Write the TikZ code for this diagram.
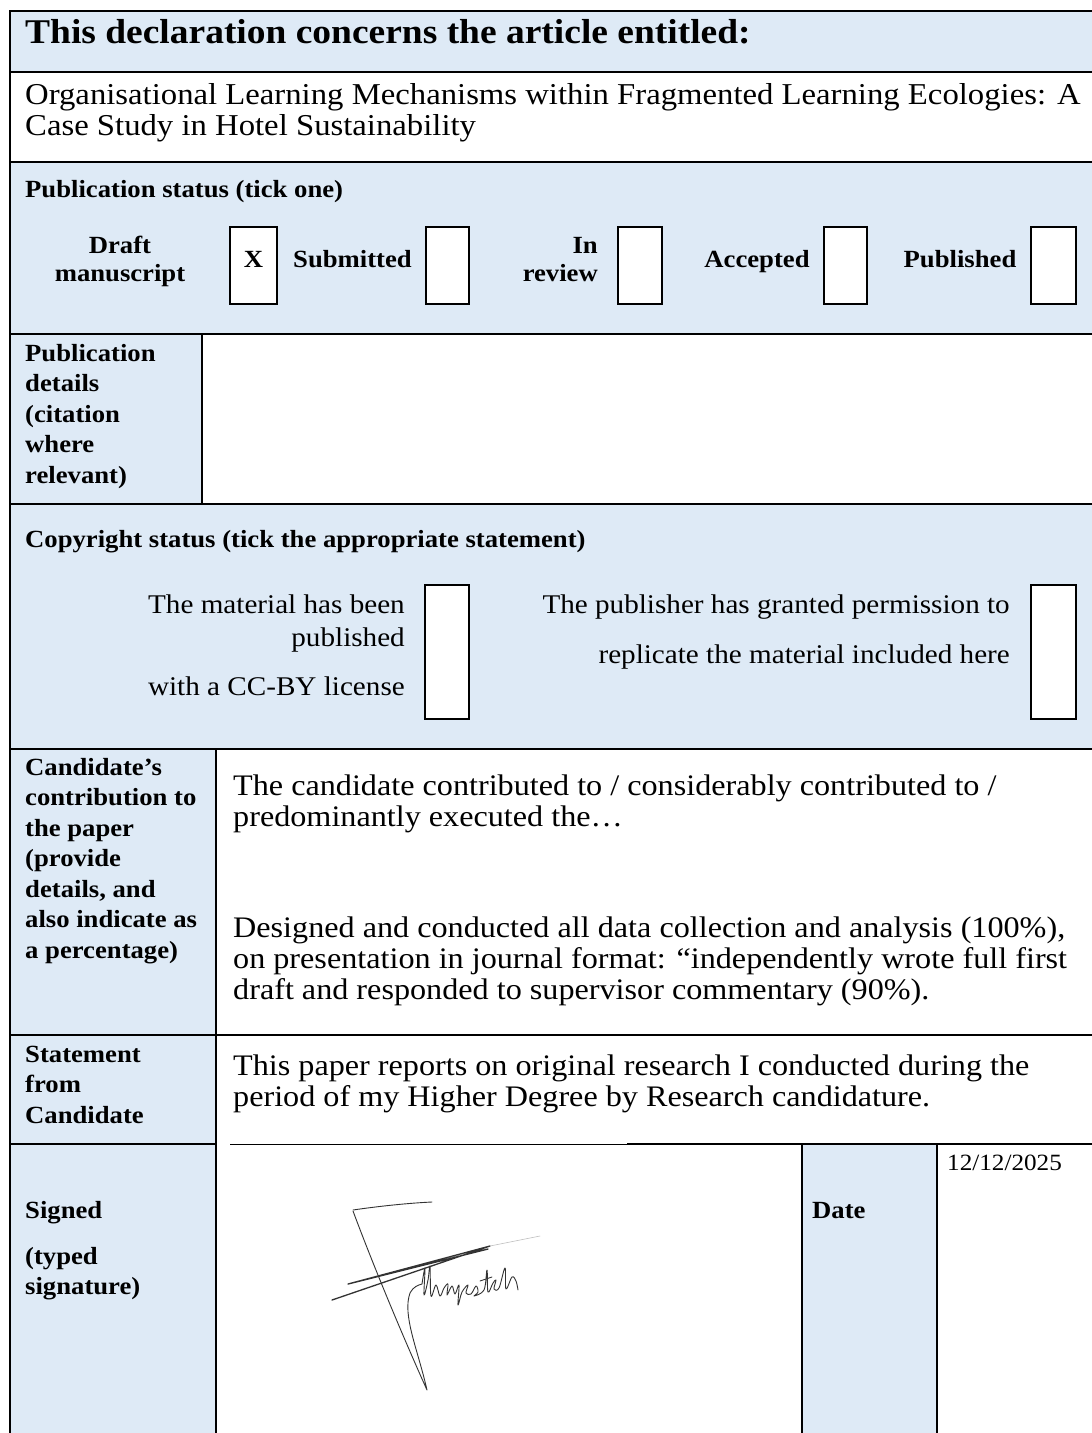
\documentclass[tikz,border=0pt]{standalone}
\usepackage{fontspec}
\setmainfont{Liberation Serif}[FakeStretch=1.08]
\definecolor{cellblue}{HTML}{DEEAF6}
\begin{document}
\begin{tikzpicture}[x=1pt,y=-1pt,
  rule/.style={line width=2.2pt, line cap=rect},
  tick/.style={draw, line width=1.8pt, fill=white},
  ttl/.style={font=\bfseries\fontsize{34.7}{38}\selectfont, inner sep=0pt},
  lbl/.style={font=\bfseries\fontsize{24.7}{28}\selectfont, inner sep=0pt},
  body/.style={font=\fontsize{30.3}{31}\selectfont, inner sep=0pt},
  cbody/.style={font=\fontsize{29.8}{31}\selectfont, inner sep=0pt},
  stm/.style={font=\fontsize{27}{29}\selectfont, inner sep=0pt},
  dt/.style={font=\fontsize{23.3}{25}\selectfont, inner sep=0pt},
  sig/.style={line width=0.9pt, draw=black!80, line cap=round, line join=round}]
\useasboundingbox (0,0) rectangle (1092,1433);
\fill[white] (0,0) rectangle (1092,1433);
% cell fills
\fill[cellblue] (10,11) rectangle (1092,72);
\fill[cellblue] (10,162) rectangle (1092,334);
\fill[cellblue] (10,334) rectangle (202,504);
\fill[cellblue] (10,504) rectangle (1092,749);
\fill[cellblue] (10,749) rectangle (216,1433);
\fill[cellblue] (802,1144) rectangle (937,1433);
% horizontal rules
\foreach \yy in {11,72,162,334,504,749,1035}
  \draw[rule] (10,\yy) -- (1095,\yy);
\draw[rule] (10,1144) -- (216,1144);
\draw[line width=1pt] (230,1144) -- (628,1144);
\draw[rule] (628,1144) -- (1095,1144);
% vertical rules
\draw[rule] (10,11) -- (10,1436);
\draw[rule] (202,334) -- (202,504);
\draw[rule] (216,749) -- (216,1436);
\draw[rule] (802,1144) -- (802,1436);
\draw[rule] (937,1144) -- (937,1436);
% tick boxes
\draw[tick] (230,227) rectangle (277,304);
\draw[tick] (426,227) rectangle (469,304);
\draw[tick] (618,227) rectangle (662,304);
\draw[tick] (824,227) rectangle (867,304);
\draw[tick] (1031,227) rectangle (1076,304);
\draw[tick] (425,585) rectangle (469,719);
\draw[tick] (1031,585) rectangle (1076,719);
% title rows
\node[ttl, anchor=base west] (title) at (25,43) {This declaration concerns the article entitled:};
\node[body, anchor=base west] (art1) at (25,104) {Organisational Learning Mechanisms within Fragmented Learning Ecologies: A};
\node[body, anchor=base west] (art2) at (25,135) {Case Study in Hotel Sustainability};
% publication status
\node[lbl, anchor=base west] (ps) at (25,197) {Publication status (tick one)};
\node[lbl, anchor=base] (dr1) at (120,253) {Draft};
\node[lbl, anchor=base] (dr2) at (120,281) {manuscript};
\node[lbl, anchor=base] (xx) at (253.5,267) {X};
\node[lbl, anchor=base west] (sub) at (293,267) {Submitted};
\node[lbl, anchor=base east] (in1) at (598,253) {In};
\node[lbl, anchor=base east] (in2) at (598,281) {review};
\node[lbl, anchor=base] (acc) at (757,267) {Accepted};
\node[lbl, anchor=base] (pub) at (960,267) {Published};
% publication details
\node[lbl, anchor=base west] (pd1) at (25,361) {Publication};
\node[lbl, anchor=base west] (pd2) at (25,391) {details};
\node[lbl, anchor=base west] (pd3) at (25,422) {(citation};
\node[lbl, anchor=base west] (pd4) at (25,452) {where};
\node[lbl, anchor=base west] (pd5) at (25,483) {relevant)};
% copyright
\node[lbl, anchor=base west] (cs) at (25,547) {Copyright status (tick the appropriate statement)};
\node[stm, anchor=base east] (cl1) at (405,613) {The material has been};
\node[stm, anchor=base east] (cl2) at (405,646) {published};
\node[stm, anchor=base east] (cl3) at (405,695) {with a CC-BY license};
\node[stm, anchor=base east] (cr1) at (1010,613) {The publisher has granted permission to};
\node[stm, anchor=base east] (cr2) at (1010,663) {replicate the material included here};
% candidate contribution
\node[lbl, anchor=base west] (cc1) at (25,775) {Candidate’s};
\node[lbl, anchor=base west] (cc2) at (25,805.5) {contribution to};
\node[lbl, anchor=base west] (cc3) at (25,836) {the paper};
\node[lbl, anchor=base west] (cc4) at (25,866.5) {(provide};
\node[lbl, anchor=base west] (cc5) at (25,897) {details, and};
\node[lbl, anchor=base west] (cc6) at (25,927.5) {also indicate as};
\node[lbl, anchor=base west] (cc7) at (25,958) {a percentage)};
\node[cbody, anchor=base west] (ct1) at (233,795) {The candidate contributed to / considerably contributed to /};
\node[cbody, anchor=base west] (ct2) at (233,826) {predominantly executed the…};
\node[cbody, anchor=base west] (ct3) at (233,937) {Designed and conducted all data collection and analysis (100\%),};
\node[cbody, anchor=base west] (ct4) at (233,968) {on presentation in journal format: “independently wrote full first};
\node[cbody, anchor=base west] (ct5) at (233,999) {draft and responded to supervisor commentary (90\%).};
% statement
\node[lbl, anchor=base west] (sf1) at (25,1062) {Statement};
\node[lbl, anchor=base west] (sf2) at (25,1092) {from};
\node[lbl, anchor=base west] (sf3) at (25,1123) {Candidate};
\node[cbody, anchor=base west] (st1) at (233,1075) {This paper reports on original research I conducted during the};
\node[cbody, anchor=base west] (st2) at (233,1106) {period of my Higher Degree by Research candidature.};
% signed
\node[lbl, anchor=base west] (sg1) at (25,1218) {Signed};
\node[lbl, anchor=base west] (sg2) at (25,1264) {(typed};
\node[lbl, anchor=base west] (sg3) at (25,1294) {signature)};
\node[lbl, anchor=base west] (dl) at (812,1218) {Date};
\node[dt, anchor=base west] (dv) at (947,1170) {12/12/2025};
% signature
\draw[sig] (353,1210) .. controls (380,1206) and (410,1203) .. (432,1202);
\draw[sig] (353,1211) .. controls (372,1262) and (400,1330) .. (427,1390)
  .. controls (418,1350) and (402,1315) .. (410,1293)
  .. controls (413,1287) and (418,1285) .. (422,1284);
\draw[sig, line width=1.3pt] (332,1300) -- (490,1246) -- (348,1284) -- (488,1249);
\draw[sig, draw=black!25, line width=0.6pt] (490,1246) -- (540,1236);
\draw[sig] plot[smooth, tension=0.6] coordinates {(422,1284) (425,1268) (424,1295) (428,1280) (430,1266) (431,1296)
  (436,1285) (440,1296) (444,1288) (448,1284) (447,1295) (452,1286) (455,1294) (459,1285) (458,1305)
  (462,1292) (468,1285) (466,1293) (471,1294) (476,1286) (478,1292) (474,1296) (484,1290) (487,1270)
  (488,1292) (493,1283) (496,1280) (494,1289) (499,1288) (505,1268) (506,1289) (512,1277) (516,1281) (518,1290)};
\draw[sig] (480,1281) -- (492,1277);
\end{tikzpicture}
\end{document}
